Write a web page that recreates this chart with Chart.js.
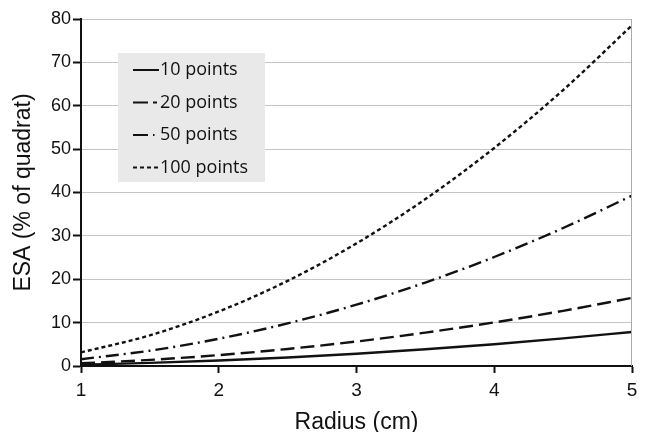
<!DOCTYPE html>
<html>
<head>
<meta charset="utf-8">
<script src="https://cdn.jsdelivr.net/npm/chart.js@4"></script>
<style>
  html, body { margin: 0; padding: 0; background: #fff; }
  #wrap { width: 645px; height: 432px; }
</style>
</head>
<body>
<div id="wrap"><canvas id="canvas_chart" width="645" height="432"></canvas></div>
<script>
// data
const radius = [1, 1.5, 2, 2.5, 3, 3.5, 4, 4.5, 5];
const pts10  = [0.31, 0.71, 1.26, 1.96, 2.83, 3.85, 5.03, 6.36, 7.85];
const pts20  = [0.63, 1.41, 2.51, 3.93, 5.65, 7.70, 10.05, 12.72, 15.71];
const pts50  = [1.57, 3.53, 6.28, 9.82, 14.14, 19.24, 25.13, 31.81, 39.27];
const pts100 = [3.14, 7.07, 12.57, 19.63, 28.27, 38.48, 50.27, 63.62, 78.54];
const seriesLabels = ["10 points", "20 points", "50 points", "100 points"];
const xTicks = [1, 2, 3, 4, 5];
const yTicks = [0, 10, 20, 30, 40, 50, 60, 70, 80];

const toXY = (ys) => ys.map((y, i) => ({ x: radius[i], y: y }));

const dashes = [[], [14, 6], [13, 5, 2, 5], [4, 3]];
// legend samples as [start, end] pieces, offsets from sample left
const legendPieces = [
  [[0, 26]],
  [[0, 15], [20, 24]],
  [[0, 15], [20, 21.5]],
  [[0, 4], [7, 11], [14, 18], [21, 25]]
];

// legend drawn inside the plot, grey box
const boxLegend = {
  id: "boxLegend",
  afterDraw(chart) {
    const ctx = chart.ctx;
    ctx.save();
    ctx.fillStyle = "#e9e9e9";
    ctx.fillRect(118, 53, 147, 129);
    ctx.font = "18px 'Open Sans', sans-serif";
    ctx.textBaseline = "middle";
    chart.data.datasets.forEach((ds, i) => {
      const y = 70 + i * 32.5;
      ctx.strokeStyle = "#111";
      ctx.lineWidth = 2;
      legendPieces[i].forEach(p => {
        ctx.beginPath();
        ctx.moveTo(133 + p[0], y);
        ctx.lineTo(133 + p[1], y);
        ctx.stroke();
      });
      ctx.fillStyle = "#111";
      ctx.fillText(ds.label, 160, y);
    });
    ctx.restore();
  }
};

const datasets = [pts10, pts20, pts50, pts100].map((d, i) => ({
  label: seriesLabels[i],
  data: toXY(d),
  borderColor: "#111",
  borderWidth: 2.4,
  borderDash: dashes[i],
  pointRadius: 0,
  tension: 0.4,
  cubicInterpolationMode: "monotone",
  fill: false
}));

const getCanvas = document.getElementById("canvas_chart");
const configChart = {
  type: "line",
  data: { datasets: datasets },
  options: {
    responsive: false,
    animation: false,
    layout: { padding: { top: 19, right: 13, left: 0, bottom: 0 } },
    plugins: { legend: { display: false }, tooltip: { enabled: false } },
    scales: {
      x: {
        type: "linear",
        min: 1,
        max: 5,
        afterBuildTicks: (s) => { s.ticks = xTicks.map(v => ({ value: v })); },
        afterFit: (s) => { s.height = 66; },
        grid: { display: true, drawOnChartArea: false, color: "#111", tickLength: 7, tickWidth: 2 },
        border: { color: "#111", width: 2 },
        ticks: { color: "#111", padding: 6, font: { family: "'Liberation Sans', Arial", size: 19 } },
        title: { display: true, text: "Radius (cm)", color: "#111", padding: { top: 0, bottom: 0 },
                 font: { family: "'Liberation Sans', Arial", size: 23, lineHeight: 0.8 } }
      },
      y: {
        min: 0,
        max: 80,
        afterBuildTicks: (s) => { s.ticks = yTicks.map(v => ({ value: v })); },
        afterFit: (s) => { s.width = 81; },
        grid: { color: "#c4c4c4", lineWidth: 1, tickColor: "#111", tickLength: 8, tickWidth: 2 },
        border: { color: "#111", width: 2 },
        ticks: { color: "#111", padding: 2, font: { family: "'Liberation Sans', Arial", size: 18 } },
        title: { display: true, text: "ESA (% of quadrat)", color: "#111", padding: { top: 10, bottom: 0 },
                 font: { family: "'Liberation Sans', Arial", size: 23 } }
      }
    }
  },
  plugins: [boxLegend, {
    id: "rightEdge",
    afterDraw(chart) {
      const a = chart.chartArea, ctx = chart.ctx;
      ctx.save();
      ctx.strokeStyle = "#aaa";
      ctx.lineWidth = 1;
      ctx.beginPath();
      ctx.moveTo(a.right - 0.5, a.top);
      ctx.lineTo(a.right - 0.5, a.bottom);
      ctx.stroke();
      ctx.restore();
    }
  }]
};
const canvas_chart = new Chart(getCanvas, configChart);
</script>
</body>
</html>
